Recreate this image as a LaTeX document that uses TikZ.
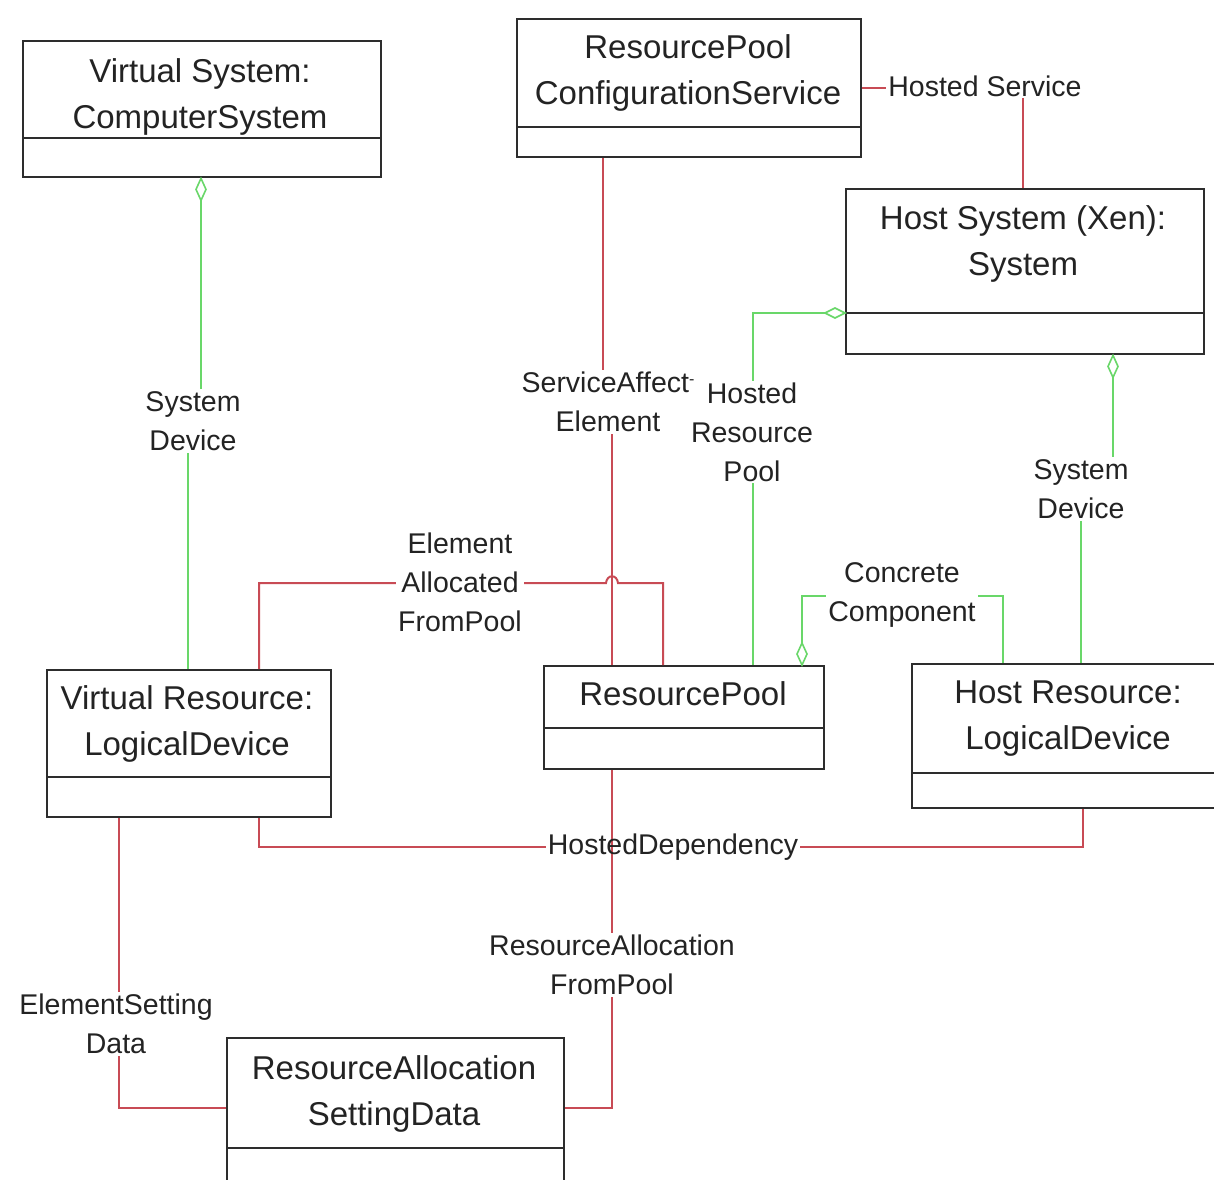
\documentclass[tikz,border=0pt]{standalone}
\usepackage{fontspec}
\setmainfont{Liberation Sans}
\definecolor{boxgray}{RGB}{45,45,45}
\definecolor{txtgray}{RGB}{35,35,35}
\definecolor{conred}{RGB}{200,75,85}
\definecolor{congreen}{RGB}{105,215,105}
\begin{document}
\begin{tikzpicture}[x=1pt,y=-1pt,
  cls/.style={draw=boxgray, line width=2.4pt, fill=white, inner sep=0pt, anchor=north west},
  divider/.style={draw=boxgray, line width=2.4pt},
  clstext/.style={font=\fontsize{33}{46}\selectfont, text=txtgray, align=center, inner sep=0pt},
  lbl/.style={font=\fontsize{28.5}{39}\selectfont, text=txtgray, align=center, fill=white, inner sep=2pt},
  lblnofill/.style={font=\fontsize{28.5}{39}\selectfont, text=txtgray, align=center, inner sep=2pt},
  rline/.style={draw=conred, line width=2pt},
  gline/.style={draw=congreen, line width=2pt},
  agg/.style={draw=congreen, line width=1.6pt, fill=white, line join=miter}]
\useasboundingbox (0,0) rectangle (1214,1179);
\clip (0,0) rectangle (1214,1179);
\fill[white] (0,0) rectangle (1214,1179);

% class boxes
\node[cls, minimum width=358, minimum height=136] (vs) at (22,40) {};
\node[cls, minimum width=344, minimum height=138] (cfg) at (516,18) {};
\node[cls, minimum width=358, minimum height=165] (hs) at (845,188) {};
\node[cls, minimum width=284, minimum height=147] (vr) at (46,669) {};
\node[cls, minimum width=280, minimum height=103] (rp) at (543,665) {};
\node[cls, minimum width=330, minimum height=144] (hr) at (911,663) {};
\node[cls, minimum width=337, minimum height=180] (rasd) at (226,1037) {};

\draw[divider] (vs.west |- 0,138) -- (vs.east |- 0,138);
\draw[divider] (cfg.west |- 0,127) -- (cfg.east |- 0,127);
\draw[divider] (hs.west |- 0,313) -- (hs.east |- 0,313);
\draw[divider] (vr.west |- 0,777) -- (vr.east |- 0,777);
\draw[divider] (rp.west |- 0,728) -- (rp.east |- 0,728);
\draw[divider] (hr.west |- 0,773) -- (hr.east |- 0,773);
\draw[divider] (rasd.west |- 0,1148) -- (rasd.east |- 0,1148);

\node[clstext] (vst) at (200,97) {Virtual System:\\ComputerSystem};
\node[clstext] (cfgt) at (688,73) {ResourcePool\\ConfigurationService};
\node[clstext] (hst) at (1023,244) {Host System (Xen):\\System};
\node[clstext] (vrt) at (187,724) {Virtual Resource:\\LogicalDevice};
\node[clstext] (rpt) at (683,694) {ResourcePool};
\node[clstext] (hrt) at (1068,719) {Host Resource:\\LogicalDevice};
\node[clstext] (rasdt) at (394,1094) {ResourceAllocation\\SettingData};

% green connectors (aggregations)
\draw[gline] (vs.south -| 201,0) -- (201,421) -- (188,421) -- (vr.north -| 188,0);
\draw[gline] (hs.south -| 1113,0) -- (1113,489) -- (1081,489) -- (hr.north -| 1081,0);
\draw[gline] (hs.west |- 0,313) -- (753,313) -- (rp.north -| 753,0);
\draw[gline] (rp.north -| 802,0) -- (802,596) -- (1003,596) -- (hr.north -| 1003,0);

\draw[agg] (vs.south -| 201,0) -- ++(5,11) -- ++(-5,11) -- ++(-5,-11) -- cycle;
\draw[agg] (hs.south -| 1113,0) -- ++(5,11) -- ++(-5,11) -- ++(-5,-11) -- cycle;
\draw[agg] (hs.west |- 0,313) -- ++(-10,-5) -- ++(-10,5) -- ++(10,5) -- cycle;
\draw[agg] (rp.north -| 802,0) -- ++(5,-11) -- ++(-5,-11) -- ++(-5,11) -- cycle;

% red connectors (associations)
\draw[rline] (cfg.east |- 0,88) -- (1023,88) -- (hs.north -| 1023,0);
\draw[rline] (cfg.south -| 603,0) -- (603,402) -- (612,402) -- (rp.north -| 612,0);
\draw[rline] (vr.north -| 259,0) -- (259,583) -- (606,583)
  .. controls (607,574) and (617,574) .. (618,583) -- (663,583) -- (rp.north -| 663,0);
\draw[rline] (rp.south -| 612,0) -- (612,1108) -- (rasd.east |- 0,1108);
\draw[rline] (vr.south -| 119,0) -- (119,1108) -- (rasd.west |- 0,1108);

% labels
\node[lbl] (l6) at (608,402) {ServiceAffect\raisebox{0.55ex}{\fontsize{16}{16}\selectfont -}\\Element};
\node[lbl] (l1) at (193,421) {System\\Device};
\node[lbl] (l2) at (1081,489) {System\\Device};
\node[lbl] (l3) at (752,432) {Hosted\\Resource\\Pool};
\node[lbl] (l4) at (902,595) {Concrete\\Component};
\node[lbl] (l5) at (985,86) {Hosted Service};
\node[lbl] (l7) at (460,582) {Element\\Allocated\\FromPool};
\node[lbl] (l8) at (612,965) {ResourceAllocation\\FromPool};
\node[lbl] (l9) at (116,1024) {ElementSetting\\Data};
\node[lblnofill] (hd) at (673,847) {HostedDependency};
\draw[rline] (vr.south -| 259,0) -- (259,847) -- (hd.west);
\draw[rline] (hd.east) -- (1083,847) -- (hr.south -| 1083,0);
\end{tikzpicture}
\end{document}
